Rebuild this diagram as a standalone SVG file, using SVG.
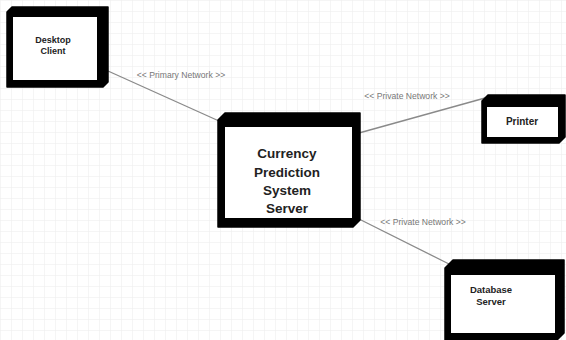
<svg xmlns="http://www.w3.org/2000/svg" width="566" height="340" viewBox="0 0 566 340">
  <style>
    .box { fill: #000; stroke: #000; stroke-width: 1.5; stroke-linejoin: round; }
    .face { fill: #fff; }
    .name { font-family: "Liberation Sans", Arial, sans-serif; font-weight: bold; fill: #222; text-anchor: middle; }
    .link { stroke: #8a8a8a; stroke-width: 1.3; fill: none; }
    .stereo { font-family: "Liberation Sans", Arial, sans-serif; font-size: 8.6px; fill: #777; text-anchor: middle; }
  </style>
  <defs>
    <pattern id="grid" width="11" height="11" patternUnits="userSpaceOnUse">
      <path d="M 11 0 L 0 0 0 11" fill="none" stroke="#ececec" stroke-width="1"/>
    </pattern>
  </defs>

  <rect width="566" height="340" fill="#fff"/>
  <rect width="566" height="340" fill="url(#grid)"/>

  <!-- network links -->
  <g id="connectors">
    <line class="link" x1="108" y1="71" x2="219" y2="121"/>
    <text class="stereo" x="181" y="78">&lt;&lt; Primary Network &gt;&gt;</text>
    <line class="link" x1="359" y1="133" x2="485" y2="98"/>
    <text class="stereo" x="407" y="99">&lt;&lt; Private Network &gt;&gt;</text>
    <line class="link" x1="357" y1="218" x2="449" y2="264"/>
    <text class="stereo" x="423" y="225">&lt;&lt; Private Network &gt;&gt;</text>
  </g>

  <g id="desktop-client">
    <polygon class="box" points="7,12 12,7 108,7 108,82 103,87 7,87"/>
    <rect class="face" x="13" y="17" width="84" height="63"/>
    <text class="name" font-size="9" x="53" y="43">Desktop</text>
    <text class="name" font-size="9" x="53" y="54">Client</text>
  </g>

  <g id="server">
    <polygon class="box" points="218,120 225,113 360,113 360,220 353,227 218,227"/>
    <rect class="face" x="225" y="127" width="127" height="91"/>
    <text class="name" font-size="13.5" x="287" y="158">Currency</text>
    <text class="name" font-size="13.5" x="287" y="177">Prediction</text>
    <text class="name" font-size="13.5" x="287" y="195">System</text>
    <text class="name" font-size="13.5" x="287" y="213">Server</text>
  </g>

  <g id="printer">
    <polygon class="box" points="482,101 488,95 565,95 565,137 559,143 482,143"/>
    <rect class="face" x="487" y="107" width="71" height="30"/>
    <text class="name" font-size="10" x="522" y="125">Printer</text>
  </g>

  <g id="database-server">
    <polygon class="box" points="445,268 453,260 564,260 564,333 557,340 445,340"/>
    <rect class="face" x="451" y="275" width="104" height="58"/>
    <text class="name" font-size="9.5" x="491" y="293">Database</text>
    <text class="name" font-size="9.5" x="491" y="305">Server</text>
  </g>
</svg>
